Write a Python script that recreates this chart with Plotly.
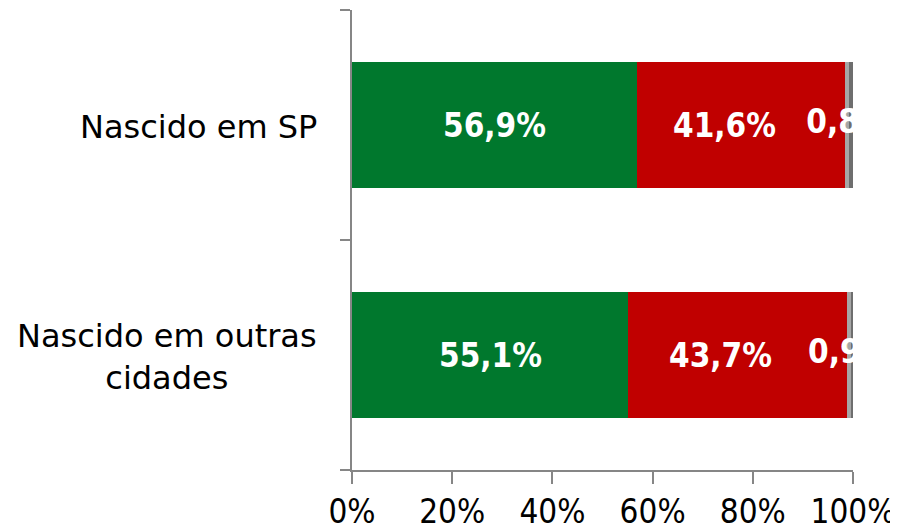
import plotly.graph_objects as go

categories = ["Nascido em SP", "Nascido em outras cidades"]
cat_labels = ["Nascido em SP", "Nascido em outras<br>cidades"]
sim = [56.9, 55.1]
nao = [41.6, 43.7]
nsabe = [0.8, 0.9]
resto = [0.7, 0.3]
tick_vals = [0, 20, 40, 60, 80, 100]
tick_text = ["0%", "20%", "40%", "60%", "80%", "100%"]

colors = ["#00782D", "#C00000", "#A6A6A6", "#6E6E6E"]
series = [sim, nao, nsabe, resto]

fig = go.Figure()
for vals, col in zip(series, colors):
    fig.add_trace(go.Bar(y=categories, x=vals, orientation="h",
                         marker=dict(color=col, line=dict(width=0)),
                         showlegend=False, hoverinfo="skip"))

def fmt(v):
    return f"{v:.1f}".replace(".", ",") + "%"

lab_font = dict(family="DejaVu Sans Condensed, DejaVu Sans", size=33, color="white")

# green labels
for c, v in zip(categories, sim):
    fig.add_annotation(x=v / 2, y=c, text="<b>" + fmt(v) + "</b>", showarrow=False,
                       font=lab_font, xref="x", yref="y")
# red labels
for c, s, v in zip(categories, sim, nao):
    fig.add_annotation(x=s + v / 2, y=c, text="<b>" + fmt(v) + "</b>", showarrow=False,
                       font=lab_font, xref="x", yref="y", xshift=-17)
# grey labels (clipped by plot area)
fig.add_trace(go.Scatter(
    x=[s + n + g / 2 for s, n, g in zip(sim, nao, nsabe)], y=categories,
    mode="text", text=["<b>" + fmt(g) + "</b>" for g in nsabe],
    textfont=lab_font, textposition="middle center", cliponaxis=True,
    showlegend=False, hoverinfo="skip"))

# category labels
for c, t in zip(categories, cat_labels):
    fig.add_annotation(x=0, xref="paper", y=c, yref="y", text=t, showarrow=False,
                       xanchor="right", align="center", xshift=-33, yshift=-2,
                       font=dict(family="DejaVu Sans", size=32, color="black"))

fig.update_layout(
    barmode="stack", bargap=0.448,
    width=890, height=524,
    margin=dict(l=344, r=45, t=2, b=62, autoexpand=False),
    plot_bgcolor="white", paper_bgcolor="white",
)
fig.update_xaxes(range=[0, 100], tickvals=tick_vals, ticktext=tick_text, automargin=False,
                 showgrid=False, zeroline=False, showline=True, linecolor="#868686",
                 linewidth=1.5, ticks="outside", ticklen=12, tickcolor="#868686", tickwidth=1.5,
                 ticklabeloverflow="allow", ticklabelstandoff=0,
                 tickfont=dict(family="DejaVu Sans Condensed, sans-serif", size=33, color="black"))
fig.update_yaxes(categoryorder="array", categoryarray=categories[::-1], range=[-0.5, 1.5],
                 automargin=False,
                 showticklabels=False, tickson="boundaries", ticks="outside", ticklen=10,
                 tickcolor="#868686", tickwidth=1.5,
                 showgrid=False, zeroline=False, showline=True, linecolor="#868686", linewidth=1.5)

fig.write_html("out.html")
